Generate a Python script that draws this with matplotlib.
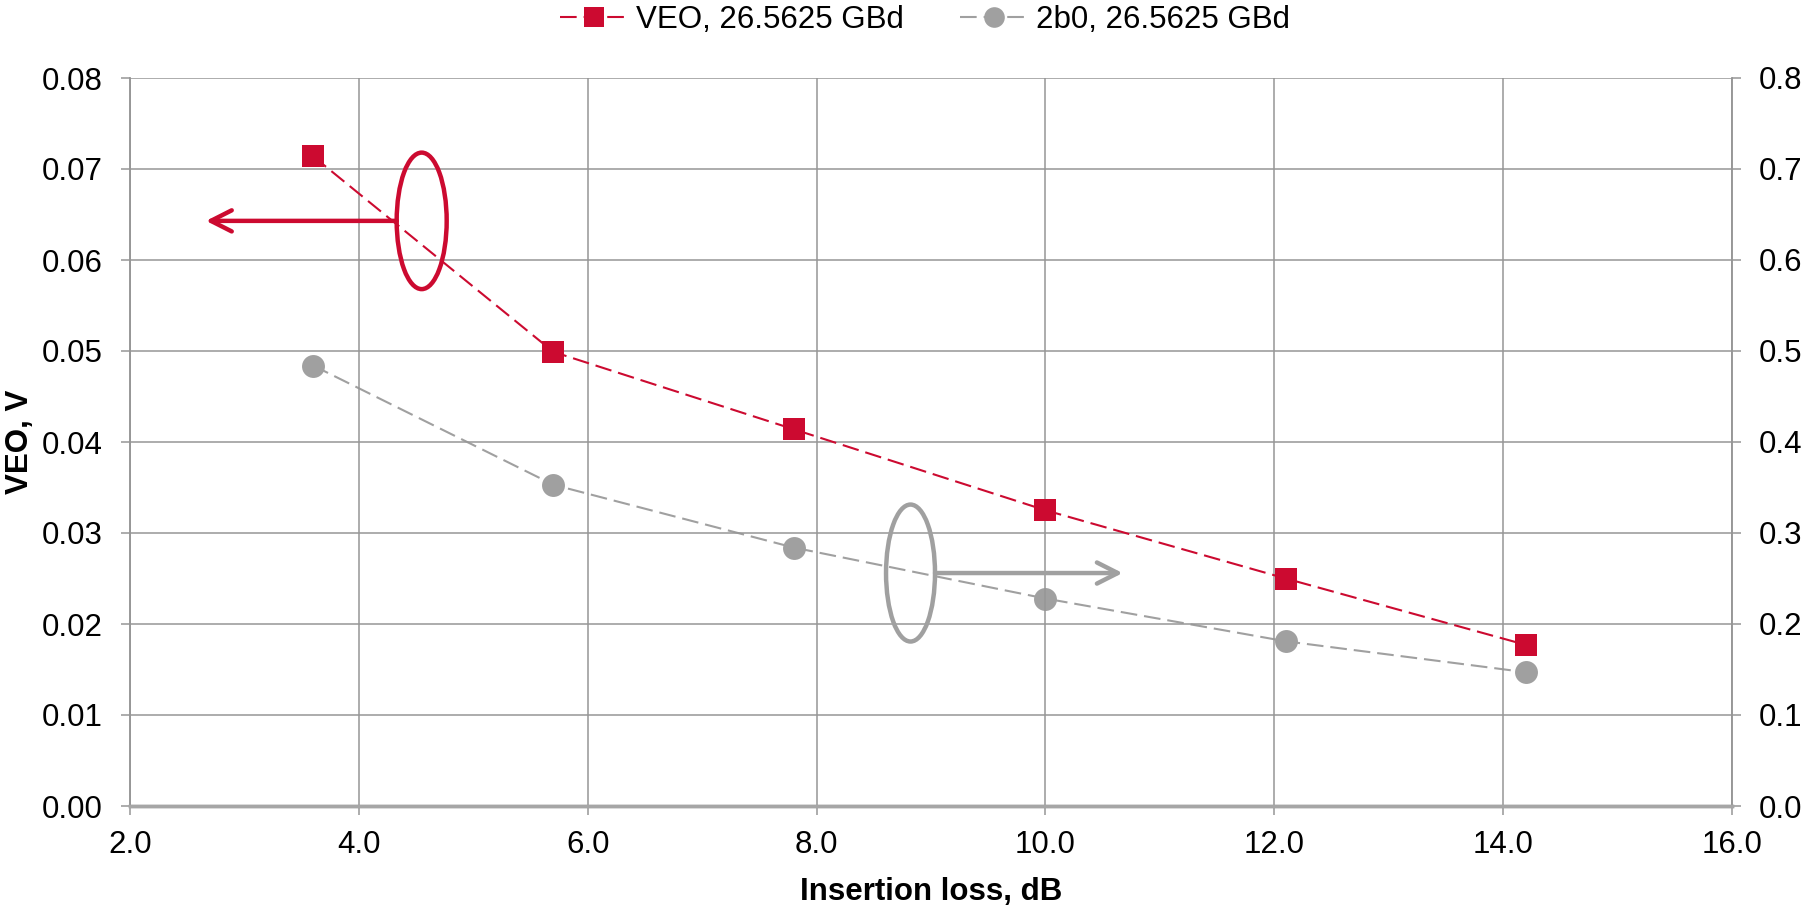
import matplotlib
matplotlib.use("Agg")
import matplotlib.pyplot as plt
from matplotlib.patches import Ellipse

plt.rcParams['font.family'] = ['Liberation Sans', 'DejaVu Sans']
plt.rcParams['lines.scale_dashes'] = False

insertion_loss = [3.6, 5.7, 7.8, 10.0, 12.1, 14.2]
veo_values = [0.0714, 0.0499, 0.0414, 0.0325, 0.0250, 0.0177]
b0_values = [0.484, 0.353, 0.284, 0.228, 0.181, 0.147]
series_labels = ["VEO, 26.5625 GBd", "2b0, 26.5625 GBd"]
x_ticks = [2.0, 4.0, 6.0, 8.0, 10.0, 12.0, 14.0, 16.0]
left_ticks = [0.00, 0.01, 0.02, 0.03, 0.04, 0.05, 0.06, 0.07, 0.08]
right_ticks = [0.0, 0.1, 0.2, 0.3, 0.4, 0.5, 0.6, 0.7, 0.8]

RED = '#CC0A30'
GRAY = '#A0A0A0'
GRID = '#969696'
FS = 22.5

fig = plt.figure(figsize=(18.18, 9.08), dpi=100)
ax = fig.add_axes([130/1818, 1-806/908, (1732-130)/1818, (806-78)/908])
ax2 = ax.twinx()

ax.set_xlim(2, 16)
ax.set_ylim(0, 0.08)
ax2.set_ylim(0, 0.8)
ax.set_xticks(x_ticks)
ax.set_xticklabels([f"{v:.1f}" for v in x_ticks])
ax.set_yticks(left_ticks)
ax.set_yticklabels([f"{v:.2f}" for v in left_ticks])
ax2.set_yticks(right_ticks)
ax2.set_yticklabels([f"{v:.1f}" for v in right_ticks])

ax.grid(True, color=GRID, linewidth=1.1)
ax.set_axisbelow(True)
for a in (ax, ax2):
    for s in a.spines.values():
        s.set_color(GRID)
        s.set_linewidth(1.1)
    a.spines['bottom'].set_color('#A6A6A6')
    a.spines['bottom'].set_linewidth(2.5)
    a.spines['top'].set_visible(False)
ax.tick_params(axis='x', length=6.5, width=1.1, color=GRID, labelsize=FS, pad=11)
ax.tick_params(axis='y', length=6.5, width=1.1, color=GRID, labelsize=FS, pad=13)
ax2.tick_params(axis='y', length=6.5, width=1.1, color=GRID, labelsize=FS, pad=13)

l1, = ax.plot(insertion_loss, veo_values, color=RED, lw=1.5, dashes=(12, 5),
              marker='s', markersize=16.5, markeredgewidth=0, zorder=5,
              label=series_labels[0])
l2, = ax2.plot(insertion_loss, b0_values, color=GRAY, lw=1.5, dashes=(12, 5),
               marker='o', markersize=16.5, markeredgewidth=0, zorder=5,
               label=series_labels[1])
ax.set_zorder(ax2.get_zorder() + 1)
ax.patch.set_visible(False)

ax.set_xlabel("Insertion loss, dB", fontsize=FS, fontweight='bold')
ax.xaxis.set_label_coords(0.5, -0.0975)
ax.set_ylabel("VEO, V", fontsize=FS, fontweight='bold')
ax.yaxis.set_label_coords(-0.0596, 0.5)

# annotations
ax.add_patch(Ellipse((4.549, 0.0643), 0.437, 0.0150, fill=False,
                     edgecolor=RED, lw=3.2, zorder=6))
ax.annotate('', xy=(2.664, 0.0643), xytext=(4.331, 0.0643),
            arrowprops=dict(arrowstyle='->,head_length=0.75,head_width=0.38',
                            lw=3.2, color=RED, mutation_scale=20,
                            shrinkA=0, shrinkB=0), zorder=6)
ax.add_patch(Ellipse((8.821, 0.0256), 0.428, 0.01505, fill=False,
                     edgecolor=GRAY, lw=3.2, zorder=6))
ax.annotate('', xy=(10.675, 0.0256), xytext=(9.035, 0.0256),
            arrowprops=dict(arrowstyle='->,head_length=0.75,head_width=0.38',
                            lw=3.2, color=GRAY, mutation_scale=20,
                            shrinkA=0, shrinkB=0), zorder=6)

fig.legend([l1, l2], series_labels, loc='center', bbox_to_anchor=(925/1818, 1-20/908),
           ncol=2, frameon=False, fontsize=FS, handlelength=2.2,
           handletextpad=0.26, columnspacing=1.77, numpoints=1, markerscale=0.9)

fig.savefig('out.png', dpi=100)
